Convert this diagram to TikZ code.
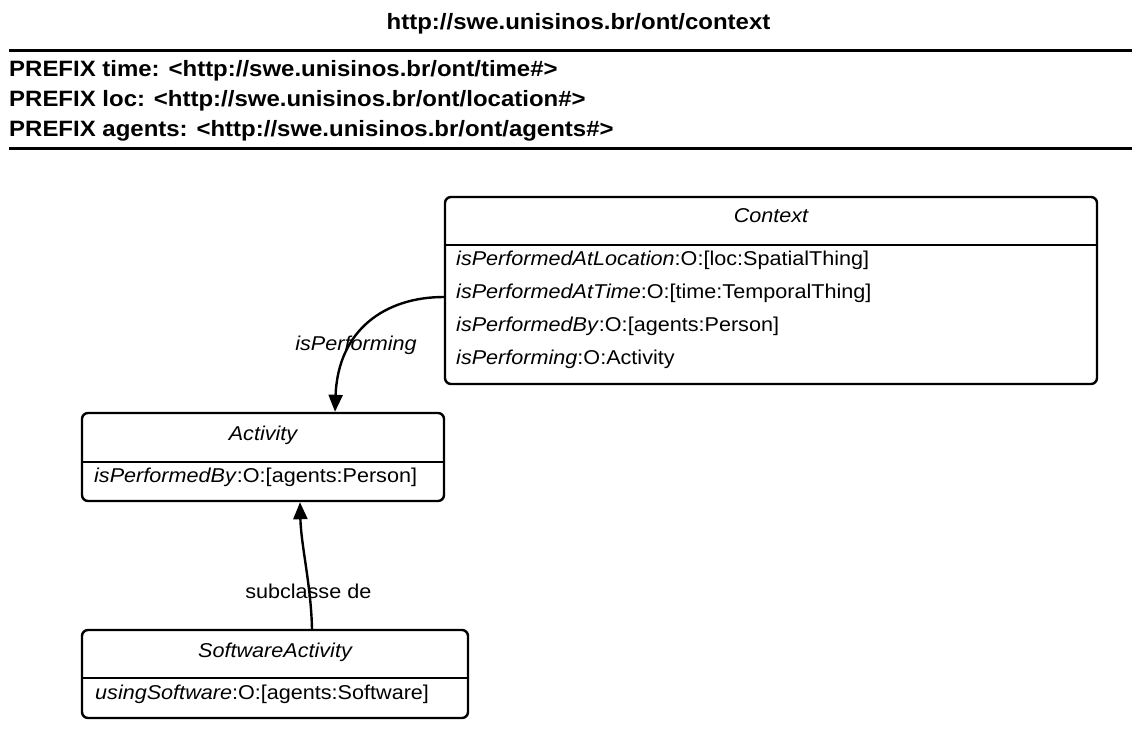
\documentclass[tikz,border=0pt]{standalone}
\usepackage{fontspec}
\setmainfont{Liberation Sans}[FakeStretch=1.08]
\usetikzlibrary{arrows.meta}
\begin{document}
\begin{tikzpicture}[x=1pt,y=-1pt,
  classbox/.style={draw, line width=2.4pt, rounded corners=6pt, inner sep=0pt},
  rowtext/.style={anchor=base west, inner sep=0pt, font=\fontsize{20}{24}\selectfont},
  titletext/.style={anchor=base, inner sep=0pt, font=\fontsize{20}{24}\selectfont\itshape},
  hdrtext/.style={inner sep=0pt, font=\fontsize{22.2}{26}\selectfont\bfseries},
  rule/.style={line width=3pt},
  divider/.style={line width=2.4pt},
  link/.style={line width=2.4pt, -{Triangle[length=17pt,width=14pt]}},
  linklabel/.style={anchor=base, inner sep=0pt, font=\fontsize{20}{24}\selectfont},
  itlabel/.style={anchor=base, inner sep=0pt, font=\fontsize{20}{24}\selectfont\itshape}
]
\useasboundingbox (0,0) rectangle (1132,745);

% ontology header
\node[hdrtext, anchor=base] (title) at (578.5,29) {http://swe.unisinos.br/ont/context};
\draw[rule] (9,50) -- (1132,50);
\node[hdrtext, anchor=base west] (pfx1) at (9,76) {PREFIX time: <http://swe.unisinos.br/ont/time\#>};
\node[hdrtext, anchor=base west] (pfx2) at (9,106) {PREFIX loc: <http://swe.unisinos.br/ont/location\#>};
\node[hdrtext, anchor=base west] (pfx3) at (9,136) {PREFIX agents: <http://swe.unisinos.br/ont/agents\#>};
\draw[rule] (9,148) -- (1132,148);

% Context class
\node[classbox, minimum width=652pt, minimum height=187pt] (ctx) at (771,290.5) {};
\draw[divider] (ctx.west |- 0,245) -- (ctx.east |- 0,245);
\node[titletext] (ctxT) at (771,222) {Context};
\node[rowtext] (ctxA1) at (456,265) {\textit{isPerformedAtLocation}:O:[loc:SpatialThing]};
\node[rowtext] (ctxA2) at (456,298) {\textit{isPerformedAtTime}:O:[time:TemporalThing]};
\node[rowtext] (ctxA3) at (456,331) {\textit{isPerformedBy}:O:[agents:Person]};
\node[rowtext] (ctxA4) at (456,364) {\textit{isPerforming}:O:Activity};

% Activity class
\node[classbox, minimum width=362pt, minimum height=88pt] (act) at (263,457) {};
\draw[divider] (act.west |- 0,462) -- (act.east |- 0,462);
\node[titletext] (actT) at (263,440) {Activity};
\node[rowtext] (actA1) at (94,482) {\textit{isPerformedBy}:O:[agents:Person]};

% SoftwareActivity class
\node[classbox, minimum width=386pt, minimum height=88pt] (sw) at (275,674) {};
\draw[divider] (sw.west |- 0,678) -- (sw.east |- 0,678);
\node[titletext] (swT) at (275,657) {SoftwareActivity};
\node[rowtext] (swA1) at (95,699) {\textit{usingSoftware}:O:[agents:Software]};

% relations
\draw[link] ([yshift=-6.5pt]ctx.west) .. controls (385,297) and (338,330) .. ([xshift=72pt]act.north);
\node[itlabel] (perfL) at (356,350) {isPerforming};
\draw[link] ([xshift=37pt]sw.north) .. controls (311,585) and (301,545) .. ([xshift=37pt]act.south);
\node[linklabel] (subL) at (308.3,598) {subclasse de};
\end{tikzpicture}
\end{document}
